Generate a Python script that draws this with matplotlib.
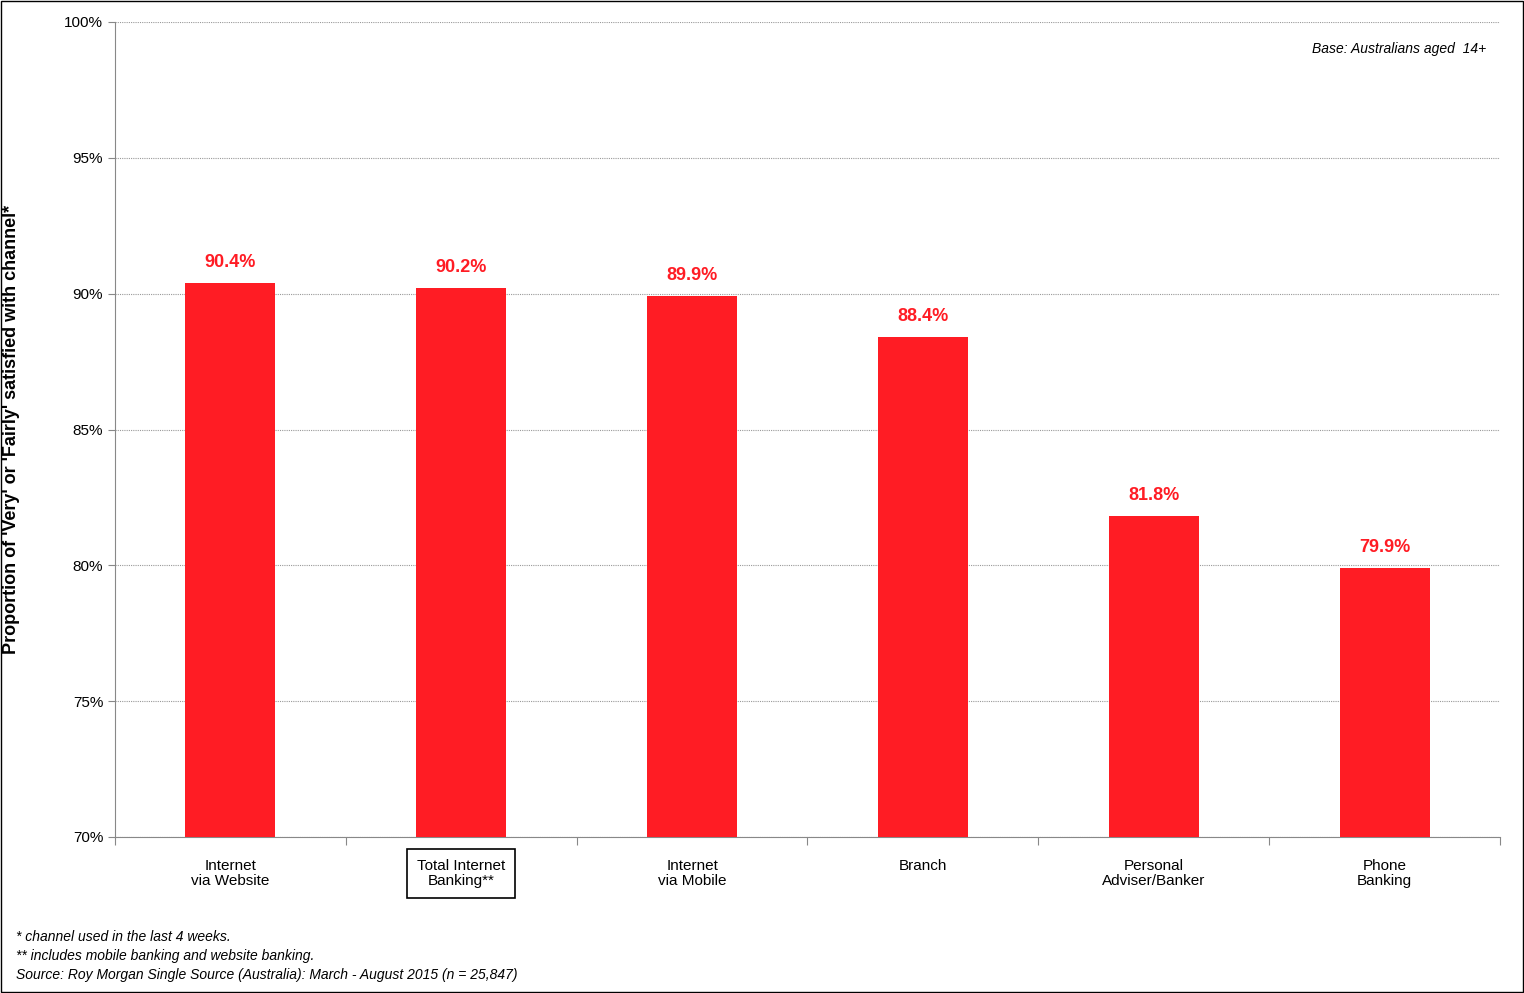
import matplotlib.pyplot as plt
import numpy as np

plt.rcParams['font.family'] = ['Liberation Sans', 'DejaVu Sans']

categories = ['Internet\nvia Website', 'Total Internet\nBanking**', 'Internet\nvia Mobile',
              'Branch', 'Personal\nAdviser/Banker', 'Phone\nBanking']
values = [90.4, 90.2, 89.9, 88.4, 81.8, 79.9]
yticks = [70, 75, 80, 85, 90, 95, 100]

fig = plt.figure(figsize=(15.24, 9.93), dpi=100)
ax = fig.add_axes([115 / 1524, 156 / 993, 1385 / 1524, 815 / 993])

x = np.arange(len(categories))
ax.bar(x, values, width=0.39, color='#FF1C24', zorder=3)
for xi, v in zip(x, values):
    ax.text(xi, v + 0.45, f'{v:.1f}%', ha='center', va='bottom', color='#FF1C24',
            fontsize=13, fontweight='bold')

ax.set_xlim(-0.5, len(categories) - 0.5)
ax.set_ylim(70, 100)
ax.set_yticks(yticks)
ax.set_yticklabels([f'{t}%' for t in yticks], fontsize=11)
ax.yaxis.grid(True, color='#999999', linestyle=(0, (1, 1)), linewidth=0.8, zorder=0)
ax.tick_params(axis='y', direction='out', length=5, color='#888888')

ax.set_xticks(np.arange(-0.5, len(categories)), minor=False)
ax.set_xticklabels([])
ax.tick_params(axis='x', direction='out', length=6, color='#888888')
for xi, c in zip(x, categories):
    t = ax.text(xi, 69.2, c, ha='center', va='top', fontsize=11, linespacing=1.15,
                transform=ax.transData)
    if c.startswith('Total'):
        t.set_bbox(dict(facecolor='none', edgecolor='black', linewidth=1.2, pad=7))

for s in ['top', 'right']:
    ax.spines[s].set_visible(False)
ax.spines['left'].set_color('#888888')
ax.spines['bottom'].set_color('#888888')

ax.set_ylabel("Proportion of 'Very' or 'Fairly' satisfied with channel*",
              fontsize=13, fontweight='bold', labelpad=32)

ax.text(0.99, 0.975, 'Base: Australians aged  14+', transform=ax.transAxes,
        ha='right', va='top', fontsize=10, style='italic')

fig.text(16 / 1524, 1 - 937 / 993, '* channel used in the last 4 weeks.', fontsize=10,
         style='italic', va='center')
fig.text(16 / 1524, 1 - 956 / 993, '** includes mobile banking and website banking.',
         fontsize=10, style='italic', va='center')
fig.text(16 / 1524, 1 - 975 / 993,
         'Source: Roy Morgan Single Source (Australia): March - August 2015 (n = 25,847)',
         fontsize=10, style='italic', va='center')

fig.patches.append(plt.Rectangle((0.0005, 0.001), 0.999, 0.998, transform=fig.transFigure,
                                 fill=False, edgecolor='black', linewidth=1))

fig.savefig('out.png', dpi=100)
